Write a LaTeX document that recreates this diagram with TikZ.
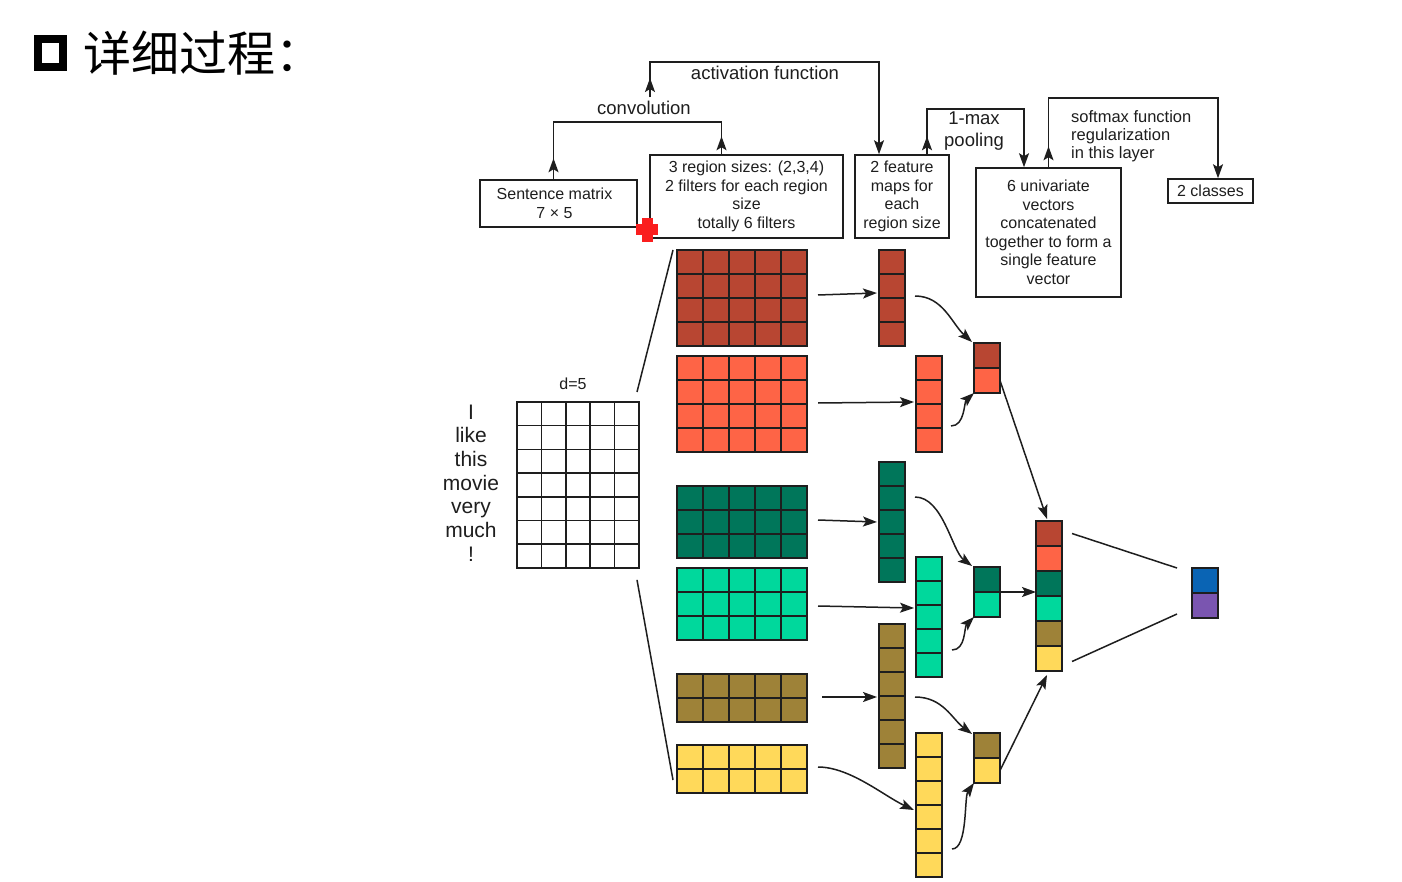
\documentclass[tikz,border=0pt]{standalone}
\usepackage{fontspec}
\setmainfont{Liberation Sans}
\newfontfamily\cjk{Noto Sans CJK SC}
\usetikzlibrary{arrows.meta,calc}
\definecolor{cdred}{RGB}{184,70,50}
\definecolor{cored}{RGB}{254,100,70}
\definecolor{cdgreen}{RGB}{0,118,90}
\definecolor{cgreen}{RGB}{0,216,156}
\definecolor{colive}{RGB}{158,130,56}
\definecolor{cyellow}{RGB}{255,217,90}
\definecolor{cblue}{RGB}{10,100,180}
\definecolor{cpurple}{RGB}{122,85,176}
\definecolor{linec}{RGB}{30,30,30}
\definecolor{crossred}{RGB}{250,30,30}
% name, x0, y0, cols, rows, cell width, cell height, colour
\newcommand{\cellblock}[8]{%
  \pgfmathtruncatemacro\cbc{#4-1}\pgfmathtruncatemacro\cbr{#5-1}%
  \foreach \i in {0,...,\cbc}{\foreach \j in {0,...,\cbr}{%
    \draw[cellstyle, fill=#8] ({#2+\i*#6},{#3+\j*#7}) rectangle ++(#6,#7);}}%
  \node[inner sep=0pt, outer sep=0pt, minimum width={#4*#6}, minimum height={#5*#7}, anchor=north west] (#1) at (#2,#3) {};%
}
\begin{document}
\begin{tikzpicture}[x=1pt,y=-1pt,
  boxstyle/.style={draw=linec, line width=1.5pt, align=center, inner sep=0pt, text=linec, font=\fontsize{16}{18.5}\selectfont},
  lbl/.style={font=\fontsize{18.5}{22}\selectfont, inner sep=1pt, align=center, text=linec},
  conn/.style={draw=linec, line width=1.5pt},
  arr/.style={conn, -{Stealth[length=14pt,width=10pt,inset=3pt]}},
  cellstyle/.style={draw=linec, line width=1.5pt},
  word/.style={font=\fontsize{21}{23}\selectfont, text height=15pt, text depth=4.5pt, inner sep=0pt, text=linec},
]
\useasboundingbox[fill=white] (0,0) rectangle (1402,882);

% title
\draw[line width=8pt] (37.5,39) rectangle (63,67.5);
\node[anchor=base west, inner sep=0pt] (title) at (83,72) {\cjk\fontsize{48}{50}\selectfont 详细过程：};

% description boxes
\node[boxstyle, minimum width=157, minimum height=47] (sent) at (558.5,203.5) {\hspace*{-8pt}Sentence matrix\\\hspace*{-8pt}7 × 5};
\node[boxstyle, minimum width=193, minimum height=83] (reg) at (746.5,196.5) {3 region sizes: (2,3,4)\\2 filters for each region\\size\\totally 6 filters};
\node[boxstyle, minimum width=94, minimum height=83] (feat) at (902,196.5) {2 feature\\maps for\\each\\region size};
\node[boxstyle, minimum width=145, minimum height=129] (univ) at (1048.5,232.5) {6 univariate\\vectors\\concatenated\\together to form a\\single feature\\vector};
\node[boxstyle, minimum width=85, minimum height=24] (cls) at (1210.5,191) {2 classes};

% convolution
\draw[conn] ([xshift=-5]sent.north) -- ++(0,-57) -| ([xshift=-25]reg.north);
\draw[arr] ([xshift=-5]sent.north) -- ++(0,-21);
\draw[arr] ([xshift=-25]reg.north) -- ++(0,-18);
\node[lbl] (conv) at (644,108) {convolution};
% activation
\draw[arr] ([xshift=6,yshift=3]conv.north) -- ++(0,-35) -| ([xshift=-23]feat.north);
\draw[arr] ([xshift=6,yshift=3]conv.north) -- ++(0,-19);
\node[lbl] (act) at (765,73) {activation function};
% pooling
\draw[arr] ([xshift=25]feat.north) -- ++(0,-45) -| ([xshift=-24.5]univ.north);
\draw[arr] ([xshift=25]feat.north) -- ++(0,-18);
\node[lbl] (pool) at (974,131) {1-max\\pooling};
% softmax
\draw[arr] (univ.north) -- ++(0,-69) -| ([xshift=7.5]cls.north);
\draw[arr] (univ.north) -- ++(0,-21);
\node[anchor=west, align=left, font=\fontsize{16.5}{18}\selectfont, inner sep=0pt, text=linec] (soft) at (1071,136) {softmax function\\regularization\\in this layer};

% red cross
\fill[crossred] (636,224) rectangle (658,235);
\fill[crossred] (642,218) rectangle (653,242);

% sentence matrix
\cellblock{sm}{517}{402}{5}{7}{24.4}{23.7}{white}
\node[font=\fontsize{16}{18}\selectfont, text=linec] (d5) at (573,384) {d=5};
\foreach \w [count=\k] in {I,like,this,movie,very,much,!}
  \node[word] (w\k) at (471,{402+23.7*(\k-0.5)}) {\w};

% filters
\cellblock{f1}{677}{250}{5}{4}{26}{24}{cdred}
\cellblock{f2}{677}{356}{5}{4}{26}{24}{cored}
\cellblock{f3}{677}{486}{5}{3}{26}{24}{cdgreen}
\cellblock{f4}{677}{568}{5}{3}{26}{24}{cgreen}
\cellblock{f5}{677}{674}{5}{2}{26}{24}{colive}
\cellblock{f6}{677}{745}{5}{2}{26}{24}{cyellow}

% feature maps
\cellblock{m1}{879}{250}{1}{4}{26}{24}{cdred}
\cellblock{m2}{916}{356}{1}{4}{26}{24}{cored}
\cellblock{m3}{879}{462}{1}{5}{26}{24}{cdgreen}
\cellblock{m4}{916}{557}{1}{5}{26}{24}{cgreen}
\cellblock{m5}{879}{624}{1}{6}{26}{24}{colive}
\cellblock{m6}{916}{733}{1}{6}{26}{24}{cyellow}

% pooled
\cellblock{p1a}{974}{343}{1}{1}{26}{25}{cdred}
\cellblock{p1b}{974}{368}{1}{1}{26}{25}{cored}
\cellblock{p2a}{974}{567}{1}{1}{26}{25}{cdgreen}
\cellblock{p2b}{974}{592}{1}{1}{26}{25}{cgreen}
\cellblock{p3a}{974}{733}{1}{1}{26}{25}{colive}
\cellblock{p3b}{974}{758}{1}{1}{26}{25}{cyellow}

% concatenated
\cellblock{c1}{1036}{521}{1}{1}{26}{25}{cdred}
\cellblock{c2}{1036}{546}{1}{1}{26}{25}{cored}
\cellblock{c3}{1036}{571}{1}{1}{26}{25}{cdgreen}
\cellblock{c4}{1036}{596}{1}{1}{26}{25}{cgreen}
\cellblock{c5}{1036}{621}{1}{1}{26}{25}{colive}
\cellblock{c6}{1036}{646}{1}{1}{26}{25}{cyellow}

% output
\cellblock{o1}{1192}{568}{1}{1}{26}{25}{cblue}
\cellblock{o2}{1192}{593}{1}{1}{26}{25}{cpurple}

% matrix to filters
\draw[conn] ($(f1.north west)+(-4,0)$) -- ($(sm.north east)+(-2,-10)$);
\draw[conn] ($(sm.south east)+(-2,12)$) -- ($(f6.south west)+(-4,-13)$);

% filters to feature maps
\draw[arr] ($(f1.east)+(11,-3)$) -- ($(m1.west)+(-2,-5)$);
\draw[arr] ($(f2.east)+(11,-1)$) -- ($(m2.west)+(-2,-2)$);
\draw[arr] ($(f3.east)+(11,-2)$) -- ($(m3.west)+(-2,0)$);
\draw[arr] ($(f4.east)+(11,2)$) -- ($(m4.west)+(-2,-9)$);
\draw[arr] ($(f5.east)+(15,-1)$) -- ($(m5.west)+(-2,1)$);
\draw[arr] ($(f6.east)+(11,-2)$) .. controls +(32,0) and +(-30,-14) .. ($(m6.west)+(-2,5)$);

% feature maps to pooled
\draw[arr] ($(m1.east)+(10,-2)$) .. controls +(28,0) and +(-20,-18) .. ($(p1a.north west)+(-2,-1)$);
\draw[arr] ($(m2.east)+(9,22)$) .. controls +(14,0) and +(-10,9) .. (p1b.south west);
\draw[arr] ($(m3.east)+(10,-25)$) .. controls +(28,0) and +(-20,-15) .. ($(p2a.north west)+(-2,-1)$);
\draw[arr] ($(m4.east)+(10,33)$) .. controls +(14,0) and +(-10,10) .. (p2b.south west);
\draw[arr] ($(m5.east)+(10,1)$) .. controls +(28,0) and +(-20,-15) .. ($(p3a.north west)+(-2,1)$);
\draw[arr] ($(m6.east)+(10,44)$) .. controls +(16,0) and +(-10,14) .. (p3b.south west);

% pooled to concatenated
\draw[arr] (p1b.east) -- ($(c1.north)+(-2,-2)$);
\draw[arr] (p2a.south east) -- (p2a.south east -| c3.west);
\draw[arr] (p3b.east) -- ($(c6.south)+(-2,4)$);

% concatenated to output
\draw[conn] ($(c1.east)+(10,0)$) -- ($(o1.north west)+(-15,0)$);
\draw[conn] ($(c6.east)+(10,3)$) -- ($(o2.south west)+(-15,-4)$);
\end{tikzpicture}
\end{document}
